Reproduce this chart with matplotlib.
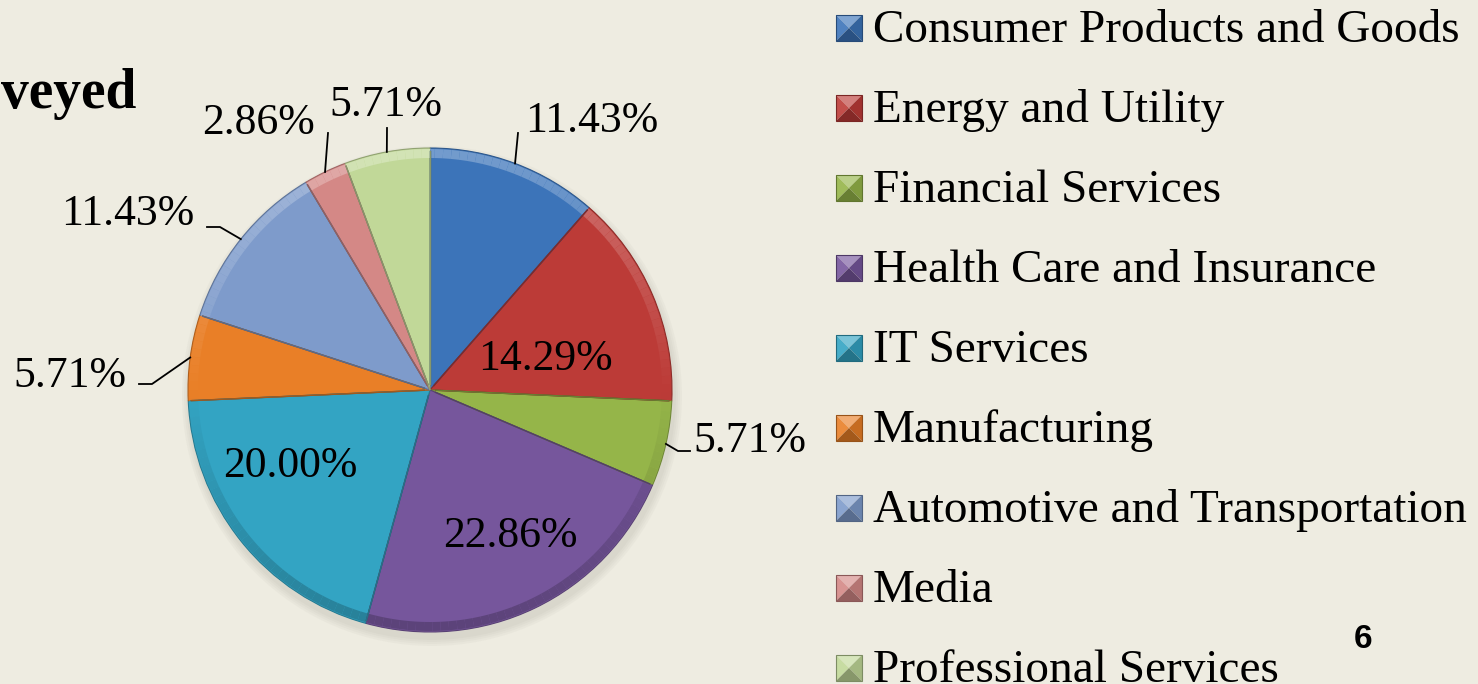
import matplotlib.pyplot as plt
import matplotlib.patches as mpatches
import matplotlib.colors as mcolors
import numpy as np

# ---------------------------------------------------------------
# DATA
# ---------------------------------------------------------------
industries = ['Consumer Products and Goods', 'Energy and Utility', 'Financial Services',
              'Health Care and Insurance', 'IT Services', 'Manufacturing',
              'Automotive and Transportation', 'Media', 'Professional Services']
shares = [11.43, 14.29, 5.71, 22.86, 20.00, 5.71, 11.43, 2.86, 5.71]
colors = ['#3c74b9', '#bc3b37', '#95b549', '#76569c', '#33a4c3',
          '#e97f27', '#7e9bcb', '#d48886', '#c1d898']

W, H = 1478, 684
BG = '#eeece1'
SERIF = 'Liberation Serif'


def py(y):
    # image pixel row -> data y
    return H - y


def shade(c, k):
    rgb = np.array(mcolors.to_rgb(c))
    if k >= 0:
        rgb = rgb + (1 - rgb) * k
    else:
        rgb = rgb * (1 + k)
    return tuple(np.clip(rgb, 0, 1))


fig = plt.figure(figsize=(W / 100, H / 100), dpi=100, facecolor=BG)
ax = fig.add_axes([0, 0, 1, 1])
ax.set_facecolor(BG)

cx, cy, R = 430, py(390), 242

# soft shadow under the pie
for i, a in enumerate([0.05, 0.05, 0.05, 0.05]):
    ax.add_patch(mpatches.Circle((cx + 2, cy - 6), R + 2 + i * 2, color='#8a887e',
                                 alpha=a, lw=0, zorder=0))

wedges, _ = ax.pie(shares, colors=colors, startangle=90, counterclock=False,
                   radius=R, center=(cx, cy), frame=True,
                   wedgeprops=dict(linewidth=0.8))
for w, c in zip(wedges, colors):
    w.set_edgecolor(shade(c, -0.25))
    # bevelled outer rim, lit from the top
    t = w.theta1
    while t < w.theta2 - 1e-6:
        t2 = min(t + 2.0, w.theta2)
        s = np.sin(np.radians((t + t2) / 2))
        k = 0.28 * s if s > 0 else 0.22 * s
        ax.add_patch(mpatches.Wedge((cx, cy), R - 1, t, t2, width=9,
                                    color=shade(c, k), lw=0, zorder=2))
        t = t2
    # bevel along the radial edges
    for th in (w.theta1, w.theta2):
        ex, ey = np.cos(np.radians(th)), np.sin(np.radians(th))
        ax.plot([cx + ex * 6, cx + ex * (R - 3)], [cy + ey * 6, cy + ey * (R - 3)],
                color=shade(c, -0.3), lw=1.0, zorder=3)

# ---------------------------------------------------------------
# DATA LABELS
# ---------------------------------------------------------------
# label centre (image px) and leader elbow (None = label inside the slice)
label_pos = [(592, 121), (545, 359), (750, 441), (510, 536), (290, 466),
             (70, 376), (128, 214), (258, 123), (386, 105)]
elbows = [[(518, 133)], None, [(678, 451), (690, 451)], None, None,
          [(152, 384), (139, 384)], [(220, 227), (207, 227)], [(328, 133)], [(387, 128)]]

for w, v, (lx, ly), el in zip(wedges, shares, label_pos, elbows):
    ax.text(lx, py(ly), f'{v:.2f}%', ha='center', va='center', fontsize=31.5,
            family=SERIF, color='black', zorder=6)
    if el is not None:
        mid = np.radians((w.theta1 + w.theta2) / 2)
        xs = [cx + R * np.cos(mid)] + [p[0] for p in el]
        ys = [cy + R * np.sin(mid)] + [py(p[1]) for p in el]
        ax.plot(xs, ys, color='black', lw=1.3, zorder=5)

# ---------------------------------------------------------------
# LEGEND
# ---------------------------------------------------------------
mx, ms = 836, 26
for i, (name, c) in enumerate(zip(industries, colors)):
    yc = 28 + 80 * i
    x0, x1 = mx, mx + ms
    y0, y1 = py(yc + ms / 2), py(yc - ms / 2)
    xm, ym = (x0 + x1) / 2, (y0 + y1) / 2
    tris = [([x0, y1], [x1, y1], shade(c, 0.35)),   # top
            ([x0, y0], [x0, y1], shade(c, 0.1)),    # left
            ([x1, y1], [x1, y0], shade(c, -0.15)),  # right
            ([x1, y0], [x0, y0], shade(c, -0.3))]   # bottom
    for a, b, col in tris:
        ax.add_patch(mpatches.Polygon([a, b, [xm, ym]], closed=True, color=col,
                                      lw=0, zorder=4))
    ax.add_patch(mpatches.Rectangle((x0, y0), ms, ms, fill=False,
                                    ec=shade(c, -0.35), lw=0.8, zorder=5))
    ax.text(873, py(yc + 3), name, ha='left', va='center', fontsize=34,
            family=SERIF, color='black')

# cut-off title and slide number
ax.text(136, py(108), 'veyed', ha='right', va='baseline', fontsize=40,
        family=SERIF, fontweight='bold', color='black')
ax.text(1363, py(640), '6', ha='center', va='center', fontsize=24,
        family='Liberation Sans', fontweight='bold', color='black')

ax.set_xlim(0, W)
ax.set_ylim(0, H)
ax.set_aspect('auto')
ax.axis('off')

plt.savefig('out.png', dpi=100, facecolor=BG)
